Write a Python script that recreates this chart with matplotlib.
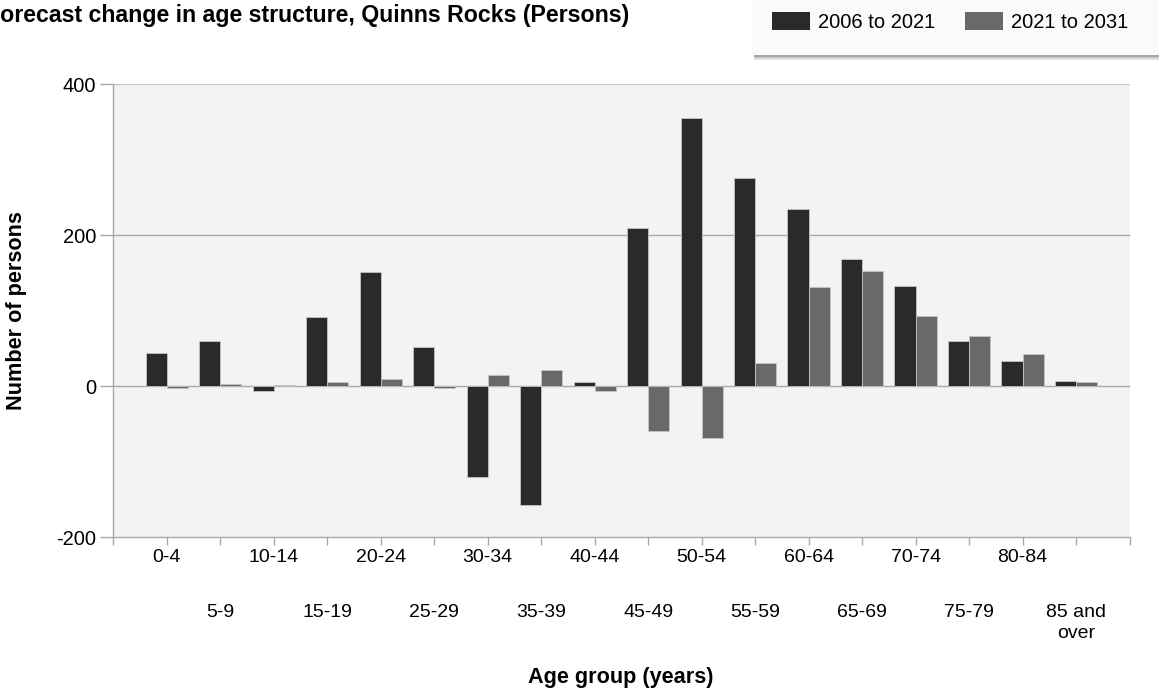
import matplotlib
matplotlib.use("Agg")
import matplotlib.pyplot as plt
from matplotlib.patches import Patch, Rectangle
import numpy as np

plt.rcParams['font.family'] = ['Liberation Sans', 'DejaVu Sans']
plt.rcParams['axes.unicode_minus'] = False

age_groups = ["0-4", "5-9", "10-14", "15-19", "20-24", "25-29", "30-34", "35-39",
              "40-44", "45-49", "50-54", "55-59", "60-64", "65-69", "70-74",
              "75-79", "80-84", "85 and\nover"]
change_2006_2021 = [44, 60, -7, 91, 151, 52, -120, -157, 5, 210, 355, 275, 234, 169, 133, 60, 33, 7]
change_2021_2031 = [-3, 3, 1, 6, 10, -3, 15, 21, -6, -59, -68, 31, 131, 152, 93, 67, 42, 5]
series_names = ["2006 to 2021", "2021 to 2031"]
y_ticks = [-200, 0, 200, 400]

W, H = 1159, 695
fig = plt.figure(figsize=(W / 100, H / 100), dpi=100)
fig.patch.set_facecolor('white')

left, right, top, bottom = 113.3, 1129.5, 84, 537.3
ax = fig.add_axes([left / W, 1 - bottom / H, (right - left) / W, (bottom - top) / H])
ax.set_facecolor('#f3f3f3')

dark = '#2a2a2a'
light = '#696969'
grid_c = '#a8a8a8'
x = np.arange(len(age_groups))
bw = 0.395
ax.bar(x - bw / 2, change_2006_2021, width=bw, color=dark, edgecolor='#c4c4c4', linewidth=0.6, zorder=3)
ax.bar(x + bw / 2, change_2021_2031, width=bw, color=light, edgecolor='#c4c4c4', linewidth=0.6, zorder=3)

ax.set_xlim(-1, len(age_groups))
ax.set_ylim(-200, 400)

# gridlines
for v in y_ticks:
    if v == 400:
        ax.axhline(v, color='#c8c8c8', lw=1.6, zorder=1)
    elif v == -200:
        pass
    else:
        ax.axhline(v, color=grid_c, lw=1.0, zorder=1)

for s in ['top', 'right']:
    ax.spines[s].set_visible(False)
ax.spines['left'].set_color(grid_c)
ax.spines['bottom'].set_color(grid_c)
ax.spines['left'].set_linewidth(1.0)
ax.spines['bottom'].set_linewidth(1.0)

ax.set_yticks(y_ticks)
ax.set_yticklabels([str(v) for v in y_ticks])
ax.tick_params(axis='y', length=9.4, width=1.0, color=grid_c, pad=3, labelsize=14.5, labelcolor='black')

# x ticks: even-indexed labels on first row, odd-indexed on second row
n = len(age_groups)
major_pos = [i for i in range(0, n, 2)] + [n]
major_lab = [age_groups[i] for i in range(0, n, 2)] + ['']
minor_pos = [-1] + [i for i in range(1, n, 2)]
minor_lab = [''] + [age_groups[i] for i in range(1, n, 2)]
ax.set_xticks(major_pos)
ax.set_xticklabels(major_lab)
ax.set_xticks(minor_pos, minor=True)
ax.set_xticklabels(minor_lab, minor=True)
ax.tick_params(axis='x', which='major', length=5.8, width=1.0, color=grid_c, pad=2.5, labelsize=14)
ax.tick_params(axis='x', which='minor', length=5.8, width=1.0, color=grid_c, pad=42, labelsize=14)
for lab in ax.get_xticklabels(minor=True):
    lab.set_multialignment('center')
    lab.set_linespacing(1.3)

# axis titles
fig.text(17 / W, 1 - 310.6 / H, "Number of persons", rotation=90, ha='center', va='center',
         fontsize=15.6, fontweight='bold')
fig.text(621 / W, 1 - 677 / H, "Age group (years)", ha='center', va='center',
         fontsize=15.6, fontweight='bold')

# title (left part cut off as in the reference)
fig.text(629 / W, 1 - 22 / H, "Forecast change in age structure, Quinns Rocks (Persons)",
         ha='right', va='baseline', fontsize=16.7, fontweight='bold')

# legend box with soft shadow
shadow = [(60, '#e2e2e2'), (58, '#c4c4c4'), (57, '#a8a8a8')]
for hpx, col in shadow:
    fig.patches.append(Rectangle((754 / W, 1 - hpx / H), (W - 754) / W + 0.01, hpx / H,
                                 transform=fig.transFigure, facecolor=col, edgecolor='none', zorder=0))
fig.patches.append(Rectangle((752 / W, 1 - 55 / H), (W - 752) / W + 0.01, 56 / H,
                             transform=fig.transFigure, facecolor='#fafafa', edgecolor='none', zorder=1))
handles = [Patch(facecolor=dark, edgecolor='none', label=series_names[0]),
           Patch(facecolor=light, edgecolor='none', label=series_names[1])]
leg = fig.legend(handles=handles, loc='center left', bbox_to_anchor=(772 / W, 1 - 22 / H),
                 ncol=2, frameon=False, fontsize=14.5, handlelength=1.9, handleheight=1.0,
                 handletextpad=0.4, columnspacing=1.45, borderpad=0, borderaxespad=0)
leg.set_zorder(5)

fig.savefig("out.png", dpi=100, facecolor='white')
